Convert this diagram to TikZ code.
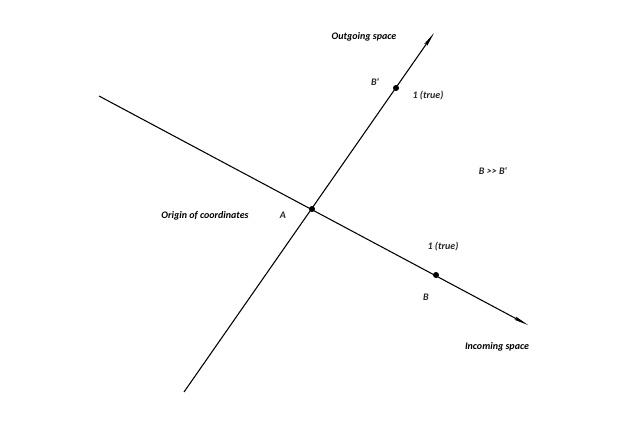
\documentclass[tikz,border=0pt]{standalone}
\usepackage{fontspec}
\setmainfont{Carlito}
\usetikzlibrary{arrows.meta}

\begin{document}
\begin{tikzpicture}[
    x=0.75pt, y=-0.75pt,
    font=\fontsize{7.5}{9}\selectfont\itshape,
    axis/.style={line width=0.8pt, -{Stealth[length=3.8mm, width=0.9mm, inset=0.5mm]}},
    dot/.style={circle, fill=black, inner sep=0pt, minimum size=4.5pt},
    lab/.style={font=\fontsize{7.5}{9}\selectfont\bfseries\itshape, text=black, inner sep=1pt},
    ptlab/.style={font=\fontsize{7.5}{9}\selectfont\bfseries\itshape, text=black!85, inner sep=1pt}
]
\useasboundingbox (0,0) rectangle (639,426);
% ============================================================
% ENDS OF THE TWO SPACES
% ============================================================
\coordinate (inStart)  at (99,96);
\coordinate (inEnd)    at (528,325);
\coordinate (outStart) at (184,392);
\coordinate (outEnd)   at (434,33);

% ============================================================
% POINTS
% ============================================================
\node[dot] (A)  at (312,209) {};
\node[dot] (Bp) at (396,88)  {};
\node[dot] (B)  at (436,275) {};

\draw[axis] (inStart) -- (inEnd);
\draw[axis] (outStart) -- (outEnd);

% ============================================================
% LABELS
% ============================================================
\node[lab]   (h_out)  at (364,37)  {Outgoing space};
\node[lab]   (h_in)   at (497,347) {Incoming space};
\node[lab]   (h_orig) at (205,216) {Origin of coordinates};
\node[ptlab] (l_A)    at (283,215) {A};
\node[ptlab] (l_Bp)   at (375,82)  {B\textquotesingle};
\node[ptlab] (l_B)    at (426,297) {B};
\node[ptlab] (t_out)  at (428,96)  {1 (true)};
\node[ptlab] (t_in)   at (443,247) {1 (true)};
\node[ptlab] (rel)    at (493,171) {B {>}{>} B\textquotesingle};

\end{tikzpicture}
\end{document}
